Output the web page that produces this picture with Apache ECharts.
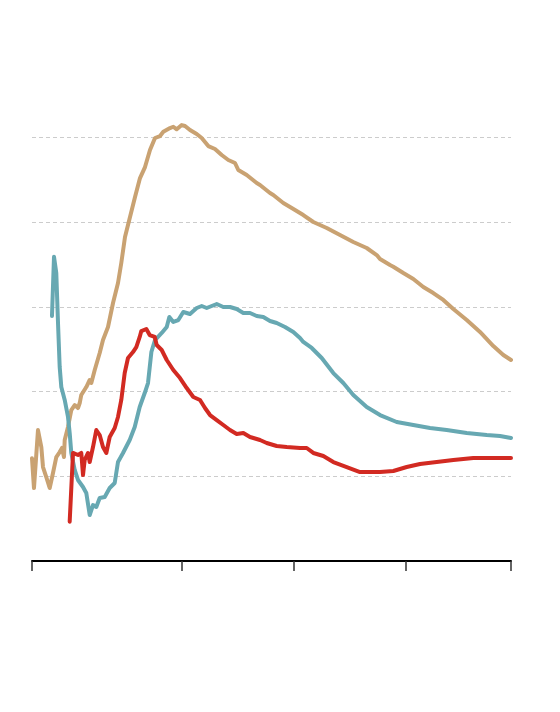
<!DOCTYPE html>
<html>
<head>
<meta charset="utf-8">
<script src="https://cdn.jsdelivr.net/npm/echarts@6/dist/echarts.min.js"></script>
<style>html,body{margin:0;padding:0;background:#fff}#c{width:560px;height:712px}</style>
</head>
<body>
<div id="c"></div>
<script>
// x positions in axis units (ticks at 0, 40, 70, 100, 128)
const xTicks = [0, 40, 70, 100, 128];
const yGrid = [1, 2, 3, 4, 5];

const tanX = [0,0.53,1.60,2.49,2.94,3.82,4.28,4.73,5.61,6.49,7.40,8.02,8.55,8.74,9.62,10.50,11.41,12.29,12.75,13.17,14.51,15.42,15.85,16.76,18.09,18.97,20.31,21.65,22.98,23.86,24.85,26.19,27.53,28.86,30.20,31.53,32.87,34.21,35.09,36.88,37.76,38.67,40.01,40.89,42.22,44.01,45.35,47.11,48.90,50.69,52.46,54.25,55.13,57.38,60.05,60.93,63.60,64.48,67.16,69.40,69.83,72.50,75.17,78.76,82.31,85.86,89.44,92.12,93.00,95.67,96.55,99.23,101.90,104.57,107.24,109.91,112.59,116.17,119.72,123.28,125.95,128];
const tanY = [1.213,0.862,1.547,1.346,1.110,0.992,0.980,0.862,1.039,1.228,1.287,1.335,1.228,1.429,1.583,1.783,1.842,1.807,1.866,1.961,2.055,2.138,2.102,2.256,2.457,2.610,2.764,3.047,3.283,3.520,3.827,4.063,4.299,4.523,4.653,4.854,4.996,5.019,5.070,5.114,5.129,5.099,5.149,5.138,5.090,5.043,4.996,4.901,4.866,4.795,4.736,4.701,4.618,4.559,4.464,4.441,4.346,4.323,4.228,4.169,4.181,4.086,4.004,3.933,3.850,3.768,3.697,3.614,3.567,3.496,3.476,3.401,3.331,3.236,3.165,3.083,2.976,2.846,2.705,2.539,2.433,2.374];

const tealX = [5.34,5.88,6.49,6.95,7.40,7.83,8.74,9.62,10.07,10.50,11.41,12.29,13.63,14.51,15.42,16.30,17.18,18.09,19.43,20.76,22.10,22.98,24.32,26.11,27.45,28.78,30.12,31.00,31.90,32.87,34.66,36.00,36.70,37.76,39.10,40.43,42.22,44.01,45.35,46.69,48.02,49.36,51.12,52.91,54.70,56.47,58.26,60.05,61.81,63.60,65.39,67.61,69.83,71.62,72.50,74.75,77.42,80.52,83.19,85.86,89.44,93.00,97.46,101.90,106.36,110.82,116.17,121.51,125.07,128];
const tealY = [2.894,3.594,3.401,2.811,2.291,2.055,1.902,1.701,1.512,1.276,1.075,0.957,0.874,0.803,0.543,0.661,0.638,0.744,0.756,0.862,0.921,1.169,1.276,1.429,1.583,1.819,1.984,2.102,2.468,2.610,2.693,2.764,2.882,2.823,2.846,2.941,2.917,2.988,3.012,2.988,3.012,3.035,3.000,3.000,2.976,2.929,2.929,2.894,2.882,2.835,2.811,2.764,2.705,2.634,2.587,2.516,2.398,2.220,2.102,1.961,1.819,1.724,1.642,1.606,1.571,1.547,1.512,1.488,1.476,1.453];

const redX = [10.07,10.96,11.41,12.29,13.17,13.63,14.08,14.97,15.42,16.30,17.18,18.09,18.97,19.86,20.76,22.10,22.98,23.86,24.77,25.65,26.99,27.87,28.78,29.21,30.55,31.45,32.79,33.32,34.66,36.00,37.76,39.55,41.34,43.11,44.90,46.23,47.57,49.36,51.12,52.91,54.70,56.47,58.26,60.93,62.72,65.39,68.06,71.62,73.41,75.17,77.85,80.52,84.10,87.65,89.44,93.00,96.55,100.13,103.69,108.15,112.59,117.93,123.28,128];
const redY = [0.464,1.276,1.287,1.252,1.276,1.016,1.193,1.276,1.169,1.346,1.547,1.488,1.346,1.276,1.465,1.571,1.701,1.902,2.220,2.398,2.468,2.527,2.646,2.716,2.740,2.669,2.646,2.551,2.492,2.374,2.256,2.161,2.043,1.937,1.902,1.807,1.724,1.665,1.606,1.547,1.500,1.512,1.465,1.429,1.394,1.358,1.346,1.335,1.335,1.276,1.240,1.169,1.110,1.051,1.051,1.051,1.063,1.110,1.146,1.169,1.193,1.217,1.217,1.217];

function pairs(xs, ys) { return xs.map((x, i) => [x, ys[i]]); }

const chart = echarts.init(document.getElementById('c'), null, {renderer: 'canvas'});
function line(name, xs, ys, color) {
  return {
    name, type: 'line', data: pairs(xs, ys), symbol: 'none', smooth: false,
    lineStyle: {color, width: 4, join: 'round', cap: 'round'},
    emphasis: {disabled: true}, z: 3
  };
}
chart.setOption({
  animation: false,
  backgroundColor: '#ffffff',
  grid: {left: 32, right: 49, top: 53, bottom: 151, containLabel: false},
  xAxis: {
    type: 'value', min: xTicks[0], max: xTicks[xTicks.length - 1],
    axisLine: {show: true, lineStyle: {color: '#000', width: 2}},
    axisTick: {show: true, length: 10, customValues: xTicks, lineStyle: {color: '#333', width: 1.5}},
    axisLabel: {show: false},
    splitLine: {show: false}
  },
  yAxis: {
    type: 'value', min: 0, max: 6, interval: 1,
    axisLine: {show: false}, axisTick: {show: false}, axisLabel: {show: false},
    splitLine: {show: true, showMinLine: false, showMaxLine: false,
      lineStyle: {color: '#cccccc', type: [4, 3], width: 1}}
  },
  series: [
    line('tan', tanX, tanY, '#c9a272'),
    line('teal', tealX, tealY, '#67a8b2'),
    line('red', redX, redY, '#d22a22')
  ]
});
</script>
</body>
</html>
